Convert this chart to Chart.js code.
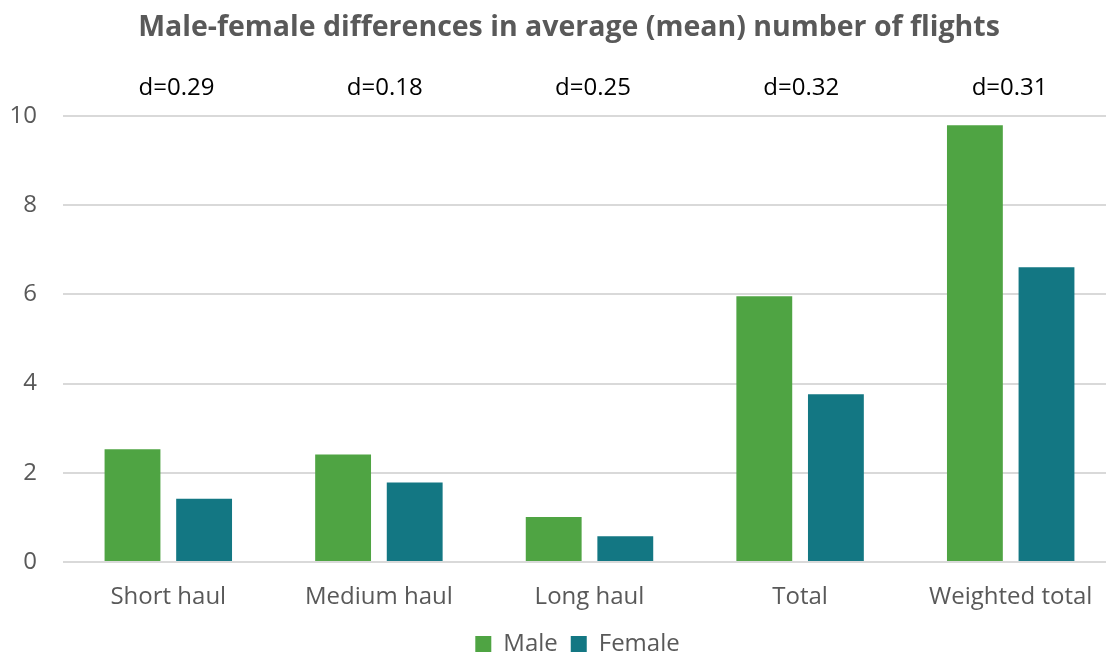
<!DOCTYPE html>
<html>
<head>
<meta charset="utf-8">
<script src="https://cdn.jsdelivr.net/npm/chart.js@4.4.1/dist/chart.umd.min.js"></script>
<style>
    html, body { margin: 0; padding: 0; background: #fff; overflow: hidden; }
    #wrap { width: 1106px; height: 652px; overflow: hidden; position: relative; }
    canvas { display: block; }
</style>
</head>
<body>
<div id="wrap">
    <canvas id="flightsChart" width="1116" height="666"></canvas>
</div>
<script>
// Chart data
const categories = ['Short haul', 'Medium haul', 'Long haul', 'Total', 'Weighted total'];
const maleValues = [2.53, 2.41, 1.01, 5.96, 9.79];
const femaleValues = [1.42, 1.78, 0.58, 3.76, 6.61];
const effectSizes = ['d=0.29', 'd=0.18', 'd=0.25', 'd=0.32', 'd=0.31'];
const yTicks = [0, 2, 4, 6, 8, 10];
const chartTitle = 'Male-female differences in average (mean) number of flights';

const GREEN = '#4fa443';
const TEAL = '#137783';
const GREY_TEXT = '#595959';
const FONT = "'Open Sans', 'Noto Sans', sans-serif";

/**
 * Draws the title and the d= labels above each category
 */
const annotationPlugin = {
    id: 'annotations',
    afterLayout(chart) {
        // legend in the original sits a little left of the plot centre
        if (chart.legend) {
            chart.legend.left -= 12;
            chart.legend.right -= 12;
        }
    },
    afterDraw(chart) {
        const ctx = chart.ctx;
        const xScale = chart.scales.x;
        ctx.save();
        ctx.textAlign = 'center';
        ctx.textBaseline = 'middle';

        ctx.fillStyle = GREY_TEXT;
        ctx.font = 'bold 28.5px ' + FONT;
        ctx.fillText(chartTitle, 569, 28);

        // the d= boxes sit on a slightly tighter spacing than the categories
        ctx.fillStyle = '#000';
        ctx.font = '24px ' + FONT;
        effectSizes.forEach((label, i) => {
            const x = xScale.getPixelForValue(i) * 0.989 + 10;
            ctx.fillText(label, x, 88);
        });
        ctx.restore();
    }
};

const ctx = document.getElementById('flightsChart').getContext('2d');
new Chart(ctx, {
    type: 'bar',
    data: {
        labels: categories,
        datasets: [
            {
                label: 'Male',
                data: maleValues,
                backgroundColor: GREEN,
                categoryPercentage: 0.68,
                barPercentage: 0.78
            },
            {
                label: 'Female',
                data: femaleValues,
                backgroundColor: TEAL,
                categoryPercentage: 0.68,
                barPercentage: 0.78
            }
        ]
    },
    options: {
        responsive: false,
        animation: false,
        layout: {
            padding: { top: 116, bottom: 0, left: 0, right: 0 }
        },
        plugins: {
            title: { display: false },
            tooltip: { enabled: false },
            legend: {
                position: 'bottom',
                fullSize: false,
                labels: {
                    boxWidth: 16,
                    boxHeight: 16,
                    padding: 13,
                    color: GREY_TEXT,
                    font: { family: FONT, size: 24 }
                }
            }
        },
        scales: {
            x: {
                afterFit(scale) {
                    scale.height = 57;
                },
                grid: { display: false, drawTicks: false },
                border: { display: false },
                ticks: {
                    color: GREY_TEXT,
                    padding: 21,
                    font: { family: FONT, size: 24 }
                }
            },
            y: {
                min: 0,
                max: 10,
                afterFit(scale) {
                    scale.width = 63;
                },
                afterBuildTicks(scale) {
                    scale.ticks = yTicks.map(v => ({ value: v }));
                },
                grid: { color: '#d9d9d9', lineWidth: 2, drawTicks: false },
                border: { display: false },
                ticks: {
                    color: GREY_TEXT,
                    padding: 26,
                    font: { family: FONT, size: 24 }
                }
            }
        }
    },
    plugins: [annotationPlugin]
});
</script>
</body>
</html>
